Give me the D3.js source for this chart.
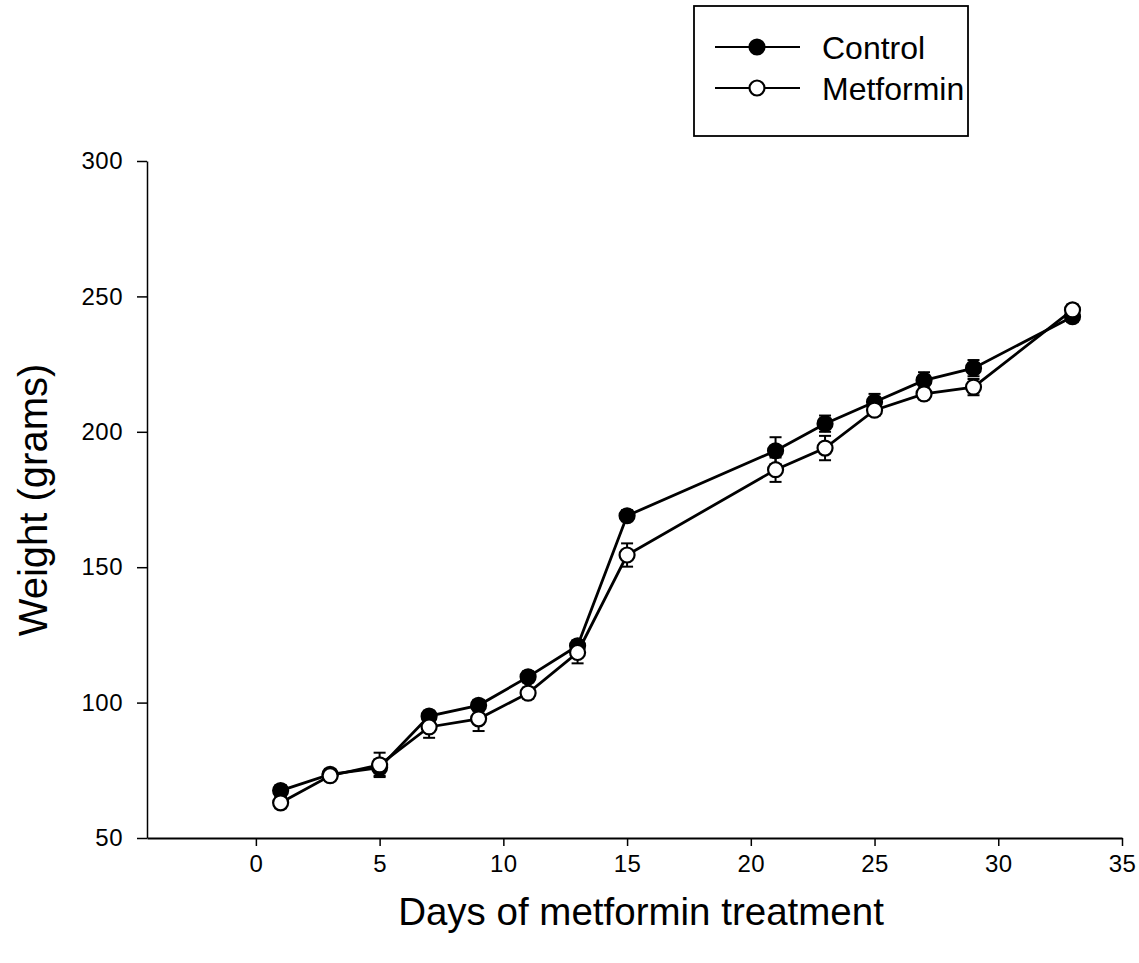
<!DOCTYPE html>
<html>
<head>
<meta charset="utf-8">
<script src="https://cdn.jsdelivr.net/npm/d3@7"></script>
<style>
  body { margin: 0; background: #fff; }
  text { font-family: 'Liberation Sans', Arial, sans-serif; fill: #000; }
</style>
</head>
<body>
<div id="chart"></div>
<script>
// days on treatment
const days = [1, 3, 5, 7, 9, 11, 13, 15, 21, 23, 25, 27, 29, 33]
// mean weight (g) and SE
const controlMean = [67.5, 73.5, 76, 95, 99, 109.5, 121, 169, 193, 203, 211, 219, 223.5, 242.5]
const controlSE = [2, 2, 3, 2, 2, 2, 2, 2, 5, 3, 3, 3, 3, 2]
const metforminMean = [63, 73, 77, 91, 94, 103.5, 118.5, 154.5, 186, 194, 208, 214, 216.5, 245]
const metforminSE = [2, 2, 4.5, 4, 4.5, 2, 4, 4.3, 4.5, 4.5, 2, 2, 3, 2]
const xTicks = [0, 5, 10, 15, 20, 25, 30, 35]
const yTicks = [50, 100, 150, 200, 250, 300]

const width = 1139
const height = 963

const svg = d3
  .select('#chart')
  .append('svg')
  .attr('width', width)
  .attr('height', height)

const x = d3.scaleLinear().domain([-4.4, 35]).range([147, 1122])
const y = d3.scaleLinear().domain([50, 300]).range([838, 161])

// axes
const xAxis = svg
  .append('g')
  .attr('transform', `translate(0, ${y(50)})`)
  .call(d3.axisBottom(x).tickValues(xTicks).tickSize(8).tickPadding(9).tickSizeOuter(0))
xAxis.select('.domain').attr('stroke-width', 2)
xAxis.selectAll('.tick line').attr('stroke-width', 1.5)
xAxis.selectAll('text').attr('font-size', 24).attr('letter-spacing', 0.5).attr('fill', '#000')

const yAxis = svg
  .append('g')
  .attr('transform', `translate(${x(-4.4)}, 0)`)
  .call(d3.axisLeft(y).tickValues(yTicks).tickSize(10).tickPadding(14).tickSizeOuter(0))
yAxis.select('.domain').attr('stroke-width', 1.5)
yAxis.selectAll('.tick line').attr('stroke-width', 1.5)
yAxis.selectAll('text').attr('font-size', 24).attr('letter-spacing', 0.5).attr('fill', '#000')

// titles
svg
  .append('text')
  .attr('x', 641)
  .attr('y', 925)
  .attr('text-anchor', 'middle')
  .attr('font-size', 38.5)
  .text('Days of metformin treatment')

svg
  .append('text')
  .attr('transform', 'translate(47, 500) rotate(-90)')
  .attr('text-anchor', 'middle')
  .attr('font-size', 40)
  .text('Weight (grams)')

const series = [
  { name: 'Control', mean: controlMean, se: controlSE, fill: '#000' },
  { name: 'Metformin', mean: metforminMean, se: metforminSE, fill: '#fff' }
]

const line = d3
  .line()
  .x(d => x(d.day))
  .y(d => y(d.mean))

series.forEach(s => {
  const pts = days.map((d, i) => ({ day: d, mean: s.mean[i], se: s.se[i] }))
  const g = svg.append('g')

  g.append('path')
    .datum(pts)
    .attr('d', line)
    .attr('fill', 'none')
    .attr('stroke', '#000')
    .attr('stroke-width', 2.8)

  const eb = g
    .selectAll('.err')
    .data(pts)
    .enter()
    .append('g')
    .attr('stroke', '#000')
    .attr('stroke-width', 2)
  eb.append('line')
    .attr('x1', d => x(d.day))
    .attr('x2', d => x(d.day))
    .attr('y1', d => y(d.mean - d.se))
    .attr('y2', d => y(d.mean + d.se))
  eb.append('line')
    .attr('x1', d => x(d.day) - 6)
    .attr('x2', d => x(d.day) + 6)
    .attr('y1', d => y(d.mean + d.se))
    .attr('y2', d => y(d.mean + d.se))
  eb.append('line')
    .attr('x1', d => x(d.day) - 6)
    .attr('x2', d => x(d.day) + 6)
    .attr('y1', d => y(d.mean - d.se))
    .attr('y2', d => y(d.mean - d.se))

  g.selectAll('circle')
    .data(pts)
    .enter()
    .append('circle')
    .attr('cx', d => x(d.day))
    .attr('cy', d => y(d.mean))
    .attr('r', 7.5)
    .attr('fill', s.fill)
    .attr('stroke', '#000')
    .attr('stroke-width', 2.2)
})

// legend
const legend = svg.append('g')
legend
  .append('rect')
  .attr('x', 694)
  .attr('y', 6)
  .attr('width', 274)
  .attr('height', 130)
  .attr('fill', '#fff')
  .attr('stroke', '#000')
  .attr('stroke-width', 1.8)

series.forEach((s, i) => {
  const ly = 47 + i * 41
  legend
    .append('line')
    .attr('x1', 715)
    .attr('x2', 800)
    .attr('y1', ly)
    .attr('y2', ly)
    .attr('stroke', '#000')
    .attr('stroke-width', 2.2)
  legend
    .append('circle')
    .attr('cx', 757)
    .attr('cy', ly)
    .attr('r', 7.5)
    .attr('fill', s.fill)
    .attr('stroke', '#000')
    .attr('stroke-width', 2.2)
  legend
    .append('text')
    .attr('x', 822)
    .attr('y', ly + 11.5)
    .attr('font-size', 32)
    .text(s.name)
})
</script>
</body>
</html>
